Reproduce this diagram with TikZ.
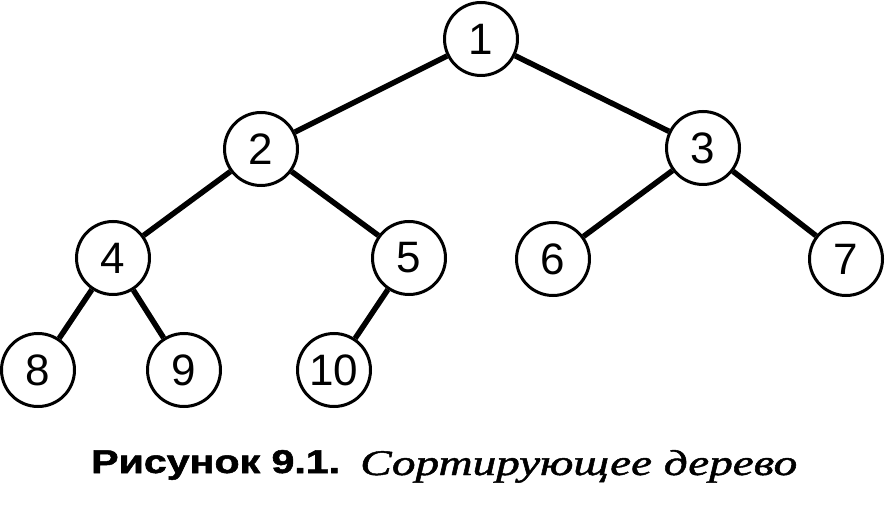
\documentclass[tikz,border=0pt]{standalone}
\usepackage{graphicx}
\usepackage{fontspec}
\setmainfont{Liberation Sans}
\newfontfamily\capserif[FakeBold=1.2]{Liberation Serif}
\newfontfamily\capsans[FakeBold=1.5]{Liberation Sans}
\begin{document}
\begin{tikzpicture}[x=1pt,y=-1pt,
  vert/.style={circle,draw,fill=white,line width=3pt,minimum size=73pt,inner sep=0pt,
    font=\fontsize{44}{44}\selectfont},
  treeedge/.style={line width=5.5pt},
  captext/.style={anchor=base west,inner sep=0pt}]
\useasboundingbox (0,0) rectangle (885,510);
\node[vert] (n1) at (481,39) {1};
\node[vert] (n2) at (261,149) {2};
\node[vert] (n3) at (703,148) {3};
\node[vert] (n4) at (113,258) {4};
\node[vert] (n5) at (409,258) {5};
\node[vert] (n6) at (553,259) {6};
\node[vert] (n7) at (846,259) {7};
\node[vert] (n8) at (38,370) {8};
\node[vert] (n9) at (184,370) {9};
\node[vert] (n10) at (334,370) {10};
\draw[treeedge] (n1) -- (n2);
\draw[treeedge] (n1) -- (n3);
\draw[treeedge] (n2) -- (n4);
\draw[treeedge] (n2) -- (n5);
\draw[treeedge] (n3) -- (n6);
\draw[treeedge] (n3) -- (n7);
\draw[treeedge] (n4) -- (n8);
\draw[treeedge] (n4) -- (n9);
\draw[treeedge] (n5) -- (n10);
\node[captext] (capA) at (91,473) {\resizebox{249pt}{23pt}{\capsans\bfseries Рисунок 9.1.}};
\node[captext] (capB) at (360,475) {\resizebox{437pt}{25pt}{\capserif\itshape Сортирующее дерево}};
\end{tikzpicture}
\end{document}
